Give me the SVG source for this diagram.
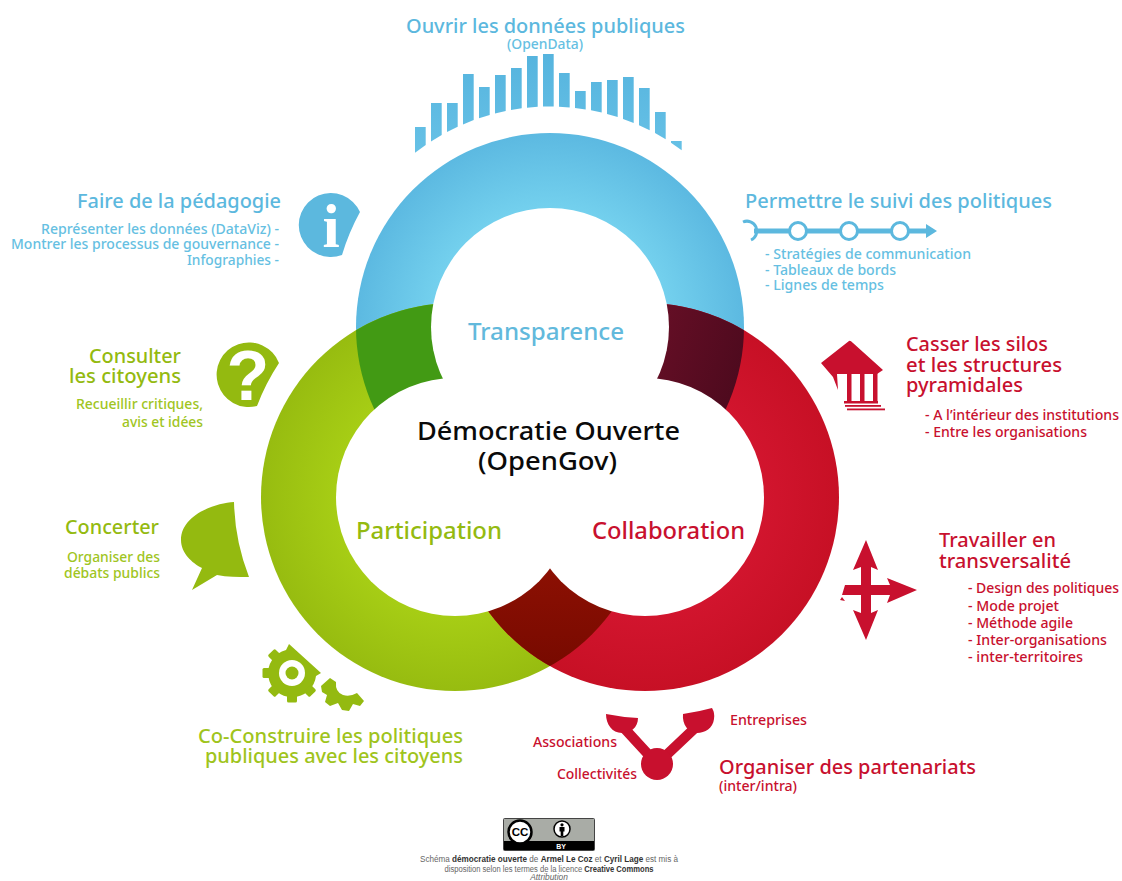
<svg xmlns="http://www.w3.org/2000/svg" width="1122" height="881" viewBox="0 0 1122 881">
<style>
text{font-family:"Noto Sans","Open Sans","Liberation Sans",sans-serif;font-weight:500}
.b{fill:#5cb8de}.g{fill:#94ba10}.r{fill:#c8102e}
.t1{font-size:20px}.t2{font-size:14px}.t3{font-size:23px}.t4{font-size:26px;fill:#0a0a0a}
.lg{font-size:14px;fill:#a0c522}.lb{font-size:14px;fill:#66bfe2}.lr{font-size:14px;fill:#c8102e}
.cc{font-family:"Liberation Sans",Arial,sans-serif;font-size:8.4px;fill:#666;font-weight:400}
.ccb{font-weight:700;fill:#333}
</style>
<defs>
<radialGradient id="gb" gradientUnits="userSpaceOnUse" cx="550" cy="327" r="194"><stop offset="0.6" stop-color="#74d1ee"/><stop offset="1" stop-color="#5cb9e1"/></radialGradient>
<radialGradient id="gg" gradientUnits="userSpaceOnUse" cx="455" cy="497" r="194"><stop offset="0.6" stop-color="#a7ce15"/><stop offset="1" stop-color="#97bc10"/></radialGradient>
<radialGradient id="gr" gradientUnits="userSpaceOnUse" cx="645" cy="497" r="194"><stop offset="0.6" stop-color="#d2152e"/><stop offset="1" stop-color="#c71025"/></radialGradient>
<linearGradient id="gm" gradientUnits="userSpaceOnUse" x1="655" y1="340" x2="742" y2="370"><stop offset="0" stop-color="#640e25"/><stop offset="1" stop-color="#4e0a1e"/></linearGradient>
<linearGradient id="gd" gradientUnits="userSpaceOnUse" x1="550" y1="568" x2="550" y2="665"><stop offset="0" stop-color="#8c1003"/><stop offset="1" stop-color="#780a00"/></linearGradient>
<linearGradient id="gbar" gradientUnits="userSpaceOnUse" x1="0" y1="54" x2="0" y2="152"><stop offset="0" stop-color="#56b4de"/><stop offset="1" stop-color="#66c1e6"/></linearGradient>
<clipPath id="cb"><circle cx="550" cy="327" r="194"/></clipPath>
<clipPath id="cg"><circle cx="455" cy="497" r="194"/></clipPath>
</defs>
<rect width="1122" height="881" fill="#fff"/>

<g id="rings">
<circle cx="550" cy="327" r="194" fill="url(#gb)"/>
<circle cx="455" cy="497" r="194" fill="url(#gg)"/>
<circle cx="645" cy="497" r="194" fill="url(#gr)"/>
<g clip-path="url(#cb)"><circle cx="455" cy="497" r="194" fill="#429a14"/></g>
<g clip-path="url(#cb)"><circle cx="645" cy="497" r="194" fill="url(#gm)"/></g>
<g clip-path="url(#cg)"><circle cx="645" cy="497" r="194" fill="url(#gd)"/></g>
<circle cx="550" cy="327" r="119" fill="#fff"/>
<circle cx="455" cy="497" r="119" fill="#fff"/>
<circle cx="645" cy="497" r="119" fill="#fff"/>
</g>

<g id="center-labels">
<text class="t3" x="468" y="340" textLength="156" lengthAdjust="spacingAndGlyphs" fill="#62b9dc">Transparence</text>
<text class="t4" x="417" y="440" textLength="263" lengthAdjust="spacingAndGlyphs">Démocratie Ouverte</text>
<text class="t4" x="478" y="470" textLength="139" lengthAdjust="spacingAndGlyphs">(OpenGov)</text>
<text class="t3 g" x="356" y="539" textLength="146" lengthAdjust="spacingAndGlyphs">Participation</text>
<text class="t3 r" x="592" y="539" textLength="153" lengthAdjust="spacingAndGlyphs">Collaboration</text>
</g>

<g id="opendata">
<g fill="url(#gbar)">
<polygon points="415,127 425.7,127 425.7,144.9 415,152.7"/>
<polygon points="431,103 441.7,103 441.7,134.9 431,141.4"/>
<polygon points="447,103 457.7,103 457.7,126.7 447,132"/>
<polygon points="463,74 473.7,74 473.7,120.1 463,124.4"/>
<polygon points="479,87 489.7,87 489.7,114.9 479,118.2"/>
<polygon points="495,75 505.7,75 505.7,111 495,113.5"/>
<polygon points="511,68 521.7,68 521.7,108.3 511,110"/>
<polygon points="527,56 537.7,56 537.7,106.8 527,107.7"/>
<polygon points="543,54 553.7,54 553.7,106.5 543,106.6"/>
<polygon points="559,73 569.7,73 569.7,107.4 559,106.7"/>
<polygon points="575,91 585.7,91 585.7,109.4 575,107.9"/>
<polygon points="591,82 601.7,82 601.7,112.6 591,110.3"/>
<polygon points="607,80 617.7,80 617.7,117.1 607,114"/>
<polygon points="623,77 633.7,77 633.7,123 623,118.9"/>
<polygon points="639,88 649.7,88 649.7,130.3 639,125.3"/>
<polygon points="655,112 665.7,112 665.7,139.3 655,133.1"/>
<polygon points="671,141 681.7,141 681.7,150.2 671,142.7"/>
</g>
<text class="t1 b" x="406" y="33" textLength="279" lengthAdjust="spacingAndGlyphs">Ouvrir les données publiques</text>
<text class="t2" fill="#66bfe2" x="507" y="49" textLength="76" lengthAdjust="spacingAndGlyphs">(OpenData)</text>
</g>

<g id="pedagogie">
<path class="b" d="M360,212 A32 32 0 1 0 342,255 A220 220 0 0 1 360,212 Z"/>
<text x="331" y="247" font-size="62" style="font-family:'Liberation Serif',serif;font-weight:700" fill="#fff" text-anchor="middle">i</text>
<text class="t1 b" x="77" y="208" textLength="204" lengthAdjust="spacingAndGlyphs">Faire de la pédagogie</text>
<text class="lb" x="41" y="234" textLength="238" lengthAdjust="spacingAndGlyphs">Représenter les données (DataViz) -</text>
<text class="lb" x="11" y="249" textLength="268" lengthAdjust="spacingAndGlyphs">Montrer les processus de gouvernance -</text>
<text class="lb" x="187" y="265" textLength="92" lengthAdjust="spacingAndGlyphs">Infographies -</text>
</g>

<g id="suivi">
<path d="M743,222 A9.5 9.5 0 0 1 751,240" fill="none" stroke="#5cb8de" stroke-width="3"/>
<path class="b" d="M754,228.500 H926 V224 L937,231 L926,238 V233.500 H754 Z"/>
<g fill="#fff" stroke="#5cb8de" stroke-width="3">
<circle cx="798" cy="231" r="8.5"/>
<circle cx="849" cy="231" r="8.5"/>
<circle cx="900" cy="231" r="8.5"/>
</g>
<text class="t1 b" x="745" y="208" textLength="307" lengthAdjust="spacingAndGlyphs">Permettre le suivi des politiques</text>
<text class="lb" x="765" y="259" textLength="206" lengthAdjust="spacingAndGlyphs">- Stratégies de communication</text>
<text class="lb" x="765" y="275" textLength="131" lengthAdjust="spacingAndGlyphs">- Tableaux de bords</text>
<text class="lb" x="765" y="290" textLength="119" lengthAdjust="spacingAndGlyphs">- Lignes de temps</text>
</g>

<g id="consulter">
<path class="g" d="M279,363 A32.3 32.3 0 1 0 257,406 A220 220 0 0 1 279,363 Z"/>
<text x="248" y="400" font-size="70" style="font-family:'Liberation Sans',sans-serif;font-weight:700" fill="#fff" text-anchor="middle">?</text>
<text class="t1 g" x="89" y="363" textLength="92" lengthAdjust="spacingAndGlyphs">Consulter</text>
<text class="t1 g" x="69" y="383" textLength="112" lengthAdjust="spacingAndGlyphs">les citoyens</text>
<text class="lg" x="76" y="409" textLength="127" lengthAdjust="spacingAndGlyphs">Recueillir critiques,</text>
<text class="lg" x="122" y="427" textLength="81" lengthAdjust="spacingAndGlyphs">avis et idées</text>
</g>

<g id="concerter">
<path class="g" d="M234,502 C215,503 181,515 181,540 C181,553 192,563 202,568 L192,590 L217,575 C227,577 238,577 249,577 A220 220 0 0 1 234,502 Z"/>
<text class="t1 g" x="65" y="534" textLength="94" lengthAdjust="spacingAndGlyphs">Concerter</text>
<text class="lg" x="67" y="562" textLength="93" lengthAdjust="spacingAndGlyphs">Organiser des</text>
<text class="lg" x="64" y="578" textLength="96" lengthAdjust="spacingAndGlyphs">débats publics</text>
</g>

<g id="coconstruire">
<g class="g">
<path d="M286,650 L289,644 L321,673 L316,676 A24 24 0 1 1 286,650 Z"/>
<g transform="translate(292 673)">
<rect x="-5" y="-29.5" width="10" height="8" rx="1.5" transform="rotate(135)"/>
<rect x="-5" y="-29.5" width="10" height="8" rx="1.5" transform="rotate(180)"/>
<rect x="-5" y="-29.5" width="10" height="8" rx="1.5" transform="rotate(225)"/>
<rect x="-5" y="-29.5" width="10" height="8" rx="1.5" transform="rotate(270)"/>
<rect x="-5" y="-29.5" width="10" height="8" rx="1.5" transform="rotate(315)"/>
</g>
<path d="M321,686 L330,678 L336,682 Q335,692 343,695 Q350,697 357,693 L364,701 L360,706 L353,704 L349,711 L342,710 L338,703 L330,706 L325,702 L327,695 L322,692 Z"/>
</g>
<circle cx="292" cy="673" r="13" fill="#fff"/>
<circle class="g" cx="292" cy="673" r="6.5"/>
<text class="t1" fill="#9fc41c" x="198" y="743" textLength="265" lengthAdjust="spacingAndGlyphs">Co-Construire les politiques</text>
<text class="t1" fill="#9fc41c" x="205" y="763" textLength="258" lengthAdjust="spacingAndGlyphs">publiques avec les citoyens</text>
</g>

<g id="silos">
<g class="r">
<path d="M849,341 L821,363 L833,377 L838,390 L837,374 H877 L883,370 L853,343 Q850,340 849,341 Z"/>
<rect x="847" y="373" width="4.5" height="29"/>
<rect x="860" y="373" width="4.5" height="29"/>
<rect x="873" y="373" width="4.5" height="29"/>
<rect x="844" y="401" width="34" height="2.5"/>
<rect x="845" y="405" width="36" height="1.8"/>
<rect x="847" y="408.5" width="38" height="1.8"/>
</g>
<text class="t1 r" x="906" y="351" textLength="142" lengthAdjust="spacingAndGlyphs">Casser les silos</text>
<text class="t1 r" x="906" y="372" textLength="156" lengthAdjust="spacingAndGlyphs">et les structures</text>
<text class="t1 r" x="906" y="392" textLength="117" lengthAdjust="spacingAndGlyphs">pyramidales</text>
<text class="lr" x="925" y="420" textLength="194" lengthAdjust="spacingAndGlyphs">- A l’intérieur des institutions</text>
<text class="lr" x="925" y="437" textLength="162" lengthAdjust="spacingAndGlyphs">- Entre les organisations</text>
</g>

<g id="transversalite">
<path class="r" d="M866,540 L878,570 L871,567 V585 H890 L887,578 L917,590 L887,603 L890,595 H871 V613 L878,610 L866,640 L853,610 L861,613 V595 H842 L845,585 H861 V567 L853,570 Z"/>
<path class="r" d="M840,600 L842,597 L845,601 Z"/>
<text class="t1 r" x="939" y="547" textLength="117" lengthAdjust="spacingAndGlyphs">Travailler en</text>
<text class="t1 r" x="939" y="568" textLength="132" lengthAdjust="spacingAndGlyphs">transversalité</text>
<text class="lr" x="968" y="593" textLength="151" lengthAdjust="spacingAndGlyphs">- Design des politiques</text>
<text class="lr" x="968" y="611" textLength="91" lengthAdjust="spacingAndGlyphs">- Mode projet</text>
<text class="lr" x="968" y="628" textLength="105" lengthAdjust="spacingAndGlyphs">- Méthode agile</text>
<text class="lr" x="968" y="645" textLength="139" lengthAdjust="spacingAndGlyphs">- Inter-organisations</text>
<text class="lr" x="968" y="662" textLength="115" lengthAdjust="spacingAndGlyphs">- inter-territoires</text>
</g>

<g id="partenariats">
<path d="M624,728 L657,764 L695,728" fill="none" stroke="#c8102e" stroke-width="10"/>
<circle class="r" cx="657" cy="764" r="16"/>
<path class="r" d="M606,714 A220 220 0 0 0 638,718 C638,728 630,733 622,733 C612,733 606,724 606,714 Z"/>
<path class="r" d="M683,714 A220 220 0 0 0 712,708 Q715,713 714,719 C713,728 705,733 697,733 C688,733 682,724 683,714 Z"/>
<text class="lr" x="730" y="725" textLength="77" lengthAdjust="spacingAndGlyphs">Entreprises</text>
<text class="lr" x="533" y="747" textLength="84" lengthAdjust="spacingAndGlyphs">Associations</text>
<text class="lr" x="557" y="779" textLength="80" lengthAdjust="spacingAndGlyphs">Collectivités</text>
<text class="t1 r" x="719" y="774" textLength="257" lengthAdjust="spacingAndGlyphs">Organiser des partenariats</text>
<text class="lr" x="719" y="791" textLength="78" lengthAdjust="spacingAndGlyphs">(inter/intra)</text>
</g>

<g id="licence">
<rect x="503.500" y="818.500" width="91" height="32" rx="1" fill="#a9aca6" stroke="#444"/>
<rect x="504" y="841" width="90" height="9" fill="#000"/>
<text x="561" y="849" font-size="7" style="font-family:'Liberation Sans',sans-serif;font-weight:700" fill="#fff" text-anchor="middle">BY</text>
<circle cx="520" cy="832" r="11.500" fill="#fff" stroke="#000" stroke-width="2.500"/>
<text x="520" y="836" font-size="11.500" style="font-family:'Liberation Sans',sans-serif;font-weight:700" fill="#000" text-anchor="middle">CC</text>
<circle cx="562" cy="829" r="8" fill="#fff" stroke="#000" stroke-width="1.500"/>
<circle cx="562" cy="824.800" r="1.600" fill="#000"/>
<path d="M559.500,827 H564.500 V831.500 H563.300 V836 H560.700 V831.500 H559.500 Z" fill="#000"/>
<text class="cc" x="549" y="862" text-anchor="middle" textLength="258" lengthAdjust="spacingAndGlyphs">Schéma <tspan class="ccb">démocratie ouverte</tspan> de <tspan class="ccb">Armel Le Coz</tspan> et <tspan class="ccb">Cyril Lage</tspan> est mis à</text>
<text class="cc" x="549" y="872" text-anchor="middle" textLength="209" lengthAdjust="spacingAndGlyphs">disposition selon les termes de la licence <tspan class="ccb">Creative Commons</tspan></text>
<text class="cc" x="549" y="880" text-anchor="middle" font-style="italic">Attribution</text>
</g>
</svg>
